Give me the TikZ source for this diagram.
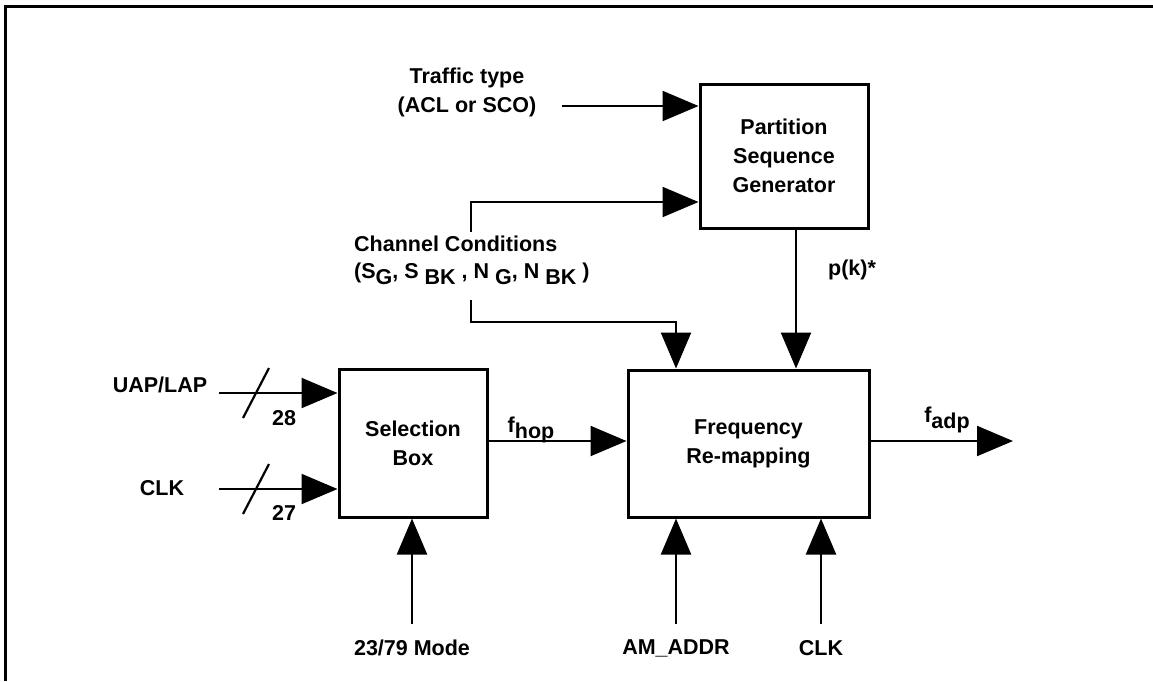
\documentclass[tikz,border=0pt]{standalone}
\usepackage{fontspec}
\setmainfont{Liberation Sans}
\usetikzlibrary{arrows.meta}
\newcommand{\lowsub}[1]{\raisebox{-6pt}{#1}}
\begin{document}
\begin{tikzpicture}[x=1pt,y=-1pt,
  every node/.style={font=\fontsize{21.5}{29}\selectfont\bfseries, inner sep=0pt, align=center},
  blk/.style={draw, line width=3pt},
  arr/.style={line width=2.2pt, -{Triangle[length=36pt,width=30pt]}},
  slashln/.style={line width=2.2pt}]
\useasboundingbox (0,0) rectangle (1153,681);
\draw[line width=3pt] (5,681) -- (5,6) -- (1153,6);

% blocks
\node[blk, minimum width=168pt, minimum height=144pt] (psg) at (784,156) {Partition\\Sequence\\Generator};
\node[blk, minimum width=148pt, minimum height=148pt] (sel) at (413,443) {Selection\\Box};
\node[blk, minimum width=241pt, minimum height=147pt] (frq) at (748.5,443.5) {Frequency\\Re-mapping};

% labels
\node (traf) at (467,92) {Traffic type\\(ACL or SCO)};
\node[anchor=west] (chan1) at (354,244) {Channel Conditions};
\node[anchor=west] (chan2) at (354,274) {(S\lowsub{G}, S \lowsub{BK} , N \lowsub{G}, N \lowsub{BK} )};
\node (pk) at (852,270) {p(k)*};
\node (uap) at (160,385) {UAP/LAP};
\node (clka) at (162,488) {CLK};
\node (n28) at (284,418) {28};
\node (n27) at (284,513) {27};
\node (mode) at (412,648) {23/79 Mode};
\node (amad) at (676,648) {AM\_ADDR};
\node (clkb) at (821,648) {CLK};
\node (fhop) at (531,430) {f\lowsub{hop}};
\node (fadp) at (947,420) {f\lowsub{adp}};

% coordinates
\coordinate (ti) at (562,106);
\coordinate (cc1) at (471,232);
\coordinate (cca) at (471,202);
\coordinate (cc2) at (471,300);
\coordinate (ccb) at (676,322);
\coordinate (pkx) at (796,0);
\coordinate (ua) at (219,393);
\coordinate (ca) at (219,489);
\coordinate (hy) at (0,441);
\coordinate (fout) at (1013,441);
\coordinate (m0) at (412,624);
\coordinate (a0) at (676,624);
\coordinate (k0) at (821,624);

% connectors
\draw[arr] (ti) -- (ti -| psg.west);
\draw[arr] (cc1) -- (cca) -- (cca -| psg.west);
\draw[arr] (cc2) |- (ccb) -- (ccb |- frq.north);
\draw[arr] (psg.south -| pkx) -- (frq.north -| pkx);
\draw[arr] (ua) -- (ua -| sel.west);
\draw[arr] (ca) -- (ca -| sel.west);
\draw[slashln] (243,418) -- (269,368);
\draw[slashln] (243,514) -- (269,464);
\draw[arr] (sel.east |- hy) -- (frq.west |- hy);
\draw[arr] (frq.east |- hy) -- (fout);
\draw[arr] (m0) -- (m0 |- sel.south);
\draw[arr] (a0) -- (a0 |- frq.south);
\draw[arr] (k0) -- (k0 |- frq.south);
\end{tikzpicture}
\end{document}
